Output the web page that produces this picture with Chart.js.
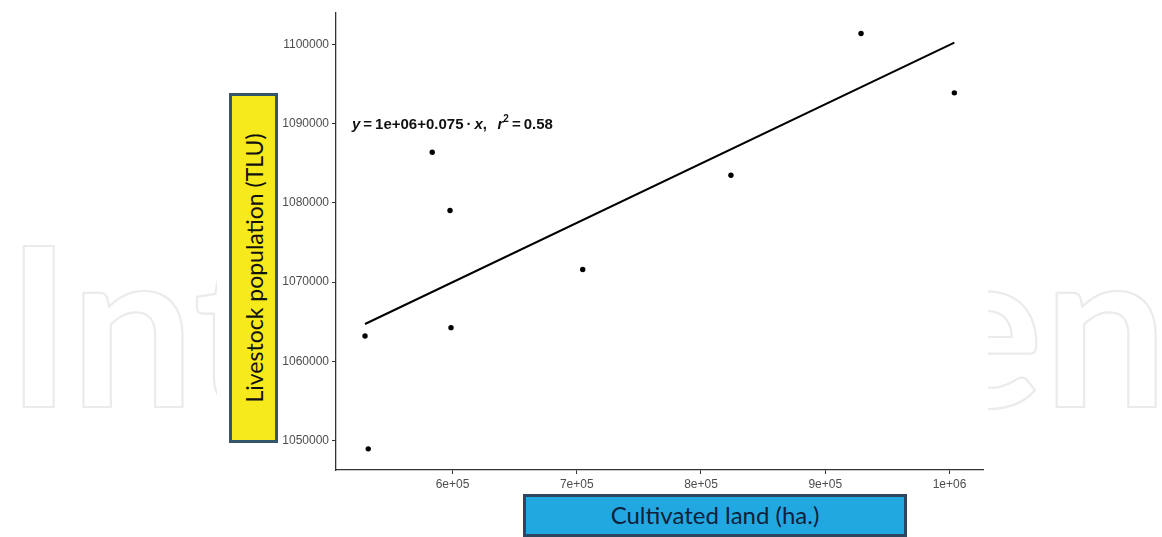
<!DOCTYPE html>
<html>
<head>
<meta charset="utf-8">
<script src="https://cdn.jsdelivr.net/npm/chart.js@4.4.1/dist/chart.umd.min.js"></script>
<style>
  html, body { margin: 0; padding: 0; background: #fff; }
  #wrap { position: relative; width: 1162px; height: 537px; overflow: hidden; }
  #chart { position: absolute; left: 0; top: 0; }
  .ylab {
    position: absolute; left: 229px; top: 93px; width: 49px; height: 350px;
    box-sizing: border-box; background: #f6ea1c; border: 3px solid #34566b;
  }
  .ylab span {
    position: absolute; left: 50%; top: 50%; white-space: nowrap;
    transform: translate(-50%, -50%) rotate(-90deg);
    font: 23px Lato, sans-serif; color: #111;
  }
  .xlab {
    position: absolute; left: 523px; top: 494px; width: 384px; height: 43px;
    box-sizing: border-box; background: #22a8e0; border: 3px solid #2c4660;
    text-align: center; font: 24px Lato, sans-serif; color: #10213a; line-height: 36px;
  }
</style>
</head>
<body>
<div id="wrap">
  <canvas id="chart" width="1162" height="537"></canvas>
  <div class="ylab"><span>Livestock population (TLU)</span></div>
  <div class="xlab">Cultivated land (ha.)</div>
</div>
<script>
// cultivated land (ha.) and livestock population (TLU)
const xValues = [529600, 532200, 583700, 598000, 598800, 704800, 824100, 928800, 1003900]
const yValues = [1063200, 1048950, 1086400, 1079050, 1064250, 1071600, 1083500, 1101400, 1093900]

// fitted line as drawn
const fitIntercept = 1025050
const fitSlope = 0.0749

const xTickValues = [600000, 700000, 800000, 900000, 1000000]
const xTickLabels = ['6e+05', '7e+05', '8e+05', '9e+05', '1e+06']
const yTickValues = [1050000, 1060000, 1070000, 1080000, 1090000, 1100000]
const yTickLabels = ['1050000', '1060000', '1070000', '1080000', '1090000', '1100000']

const xRange = [506240, 1026960]
const yRange = [1046280, 1103980]

const points = xValues.map((x, i) => ({ x, y: yValues[i] }))
const xLo = Math.min(...xValues)
const xHi = Math.max(...xValues)
const fitLine = [xLo, xHi].map(x => ({ x, y: fitIntercept + fitSlope * x }))

const AXIS = '#333333'
const TICK_TEXT = '#4d4d4d'

// IntechOpen watermark, hidden behind the white plot panel
const watermark = {
  id: 'watermark',
  beforeDraw (chart) {
    const ctx = chart.ctx
    ctx.save()
    ctx.beginPath()
    ctx.rect(0, 0, 217, chart.height)
    ctx.rect(988, 0, chart.width - 988, chart.height)
    ctx.clip()
    ctx.font = 'bold 222px Lato'
    const w = ctx.measureText('IntechOpen').width
    ctx.translate(6, 407)
    ctx.scale(1162 / w, 1)
    ctx.strokeStyle = '#ebebeb'
    ctx.lineWidth = 2.2
    ctx.lineJoin = 'round'
    ctx.strokeText('IntechOpen', 0, 0)
    ctx.restore()
  }
}

// regression equation label
const equation = {
  id: 'equation',
  afterDatasetsDraw (chart) {
    const ctx = chart.ctx
    const px = chart.scales.x.getPixelForValue(519100)
    const py = chart.scales.y.getPixelForValue(1089820)
    const parts = [
      ['y', 'italic bold 15px "Liberation Sans"', 0],
      ['\u2009=\u2009', 'bold 15px "Liberation Sans"', 0],
      ['1e+06+0.075\u2009\u00b7\u2009', 'bold 15px "Liberation Sans"', 0],
      ['x', 'italic bold 15px "Liberation Sans"', 0],
      [',\u2002\u2009', 'bold 15px "Liberation Sans"', 0],
      ['r', 'italic bold 15px "Liberation Sans"', 0],
      ['2', 'bold 10px "Liberation Sans"', -6],
      ['\u2009=\u2009', 'bold 15px "Liberation Sans"', 0],
      ['0.58', 'bold 15px "Liberation Sans"', 0]
    ]
    ctx.save()
    ctx.fillStyle = '#111'
    ctx.textBaseline = 'middle'
    let cx = px
    parts.forEach(([t, f, dy]) => {
      ctx.font = f
      ctx.fillText(t, cx, py + dy)
      cx += ctx.measureText(t).width
    })
    ctx.restore()
  }
}

new Chart(document.getElementById('chart'), {
  type: 'scatter',
  data: {
    datasets: [
      {
        data: fitLine,
        showLine: true,
        borderColor: '#000',
        borderWidth: 2,
        pointRadius: 0
      },
      {
        data: points,
        backgroundColor: '#000',
        borderColor: '#000',
        borderWidth: 0,
        pointRadius: 2.7
      }
    ]
  },
  options: {
    responsive: false,
    animation: false,
    devicePixelRatio: 1,
    layout: { padding: { left: 0, top: 13, right: 179, bottom: 0 } },
    plugins: { legend: { display: false }, tooltip: { enabled: false } },
    scales: {
      x: {
        type: 'linear',
        min: xRange[0],
        max: xRange[1],
        afterBuildTicks: s => { s.ticks = xTickValues.map(v => ({ value: v })) },
        afterFit: s => { s.height = 67 },
        ticks: {
          callback: (v, i) => xTickLabels[i],
          color: TICK_TEXT,
          font: { family: 'Liberation Sans', size: 12 },
          padding: 3,
          maxRotation: 0,
          autoSkip: false
        },
        grid: { drawOnChartArea: false, tickLength: 4, color: AXIS },
        border: { color: AXIS, width: 1.3 }
      },
      y: {
        type: 'linear',
        min: yRange[0],
        max: yRange[1],
        afterBuildTicks: s => { s.ticks = yTickValues.map(v => ({ value: v })) },
        afterFit: s => { s.width = 336 },
        ticks: {
          callback: (v, i) => yTickLabels[i],
          color: TICK_TEXT,
          font: { family: 'Liberation Sans', size: 12 },
          padding: 3,
          autoSkip: false
        },
        grid: { drawOnChartArea: false, tickLength: 4, color: AXIS },
        border: { color: AXIS, width: 1.3 }
      }
    }
  },
  plugins: [watermark, equation]
})
</script>
</body>
</html>
